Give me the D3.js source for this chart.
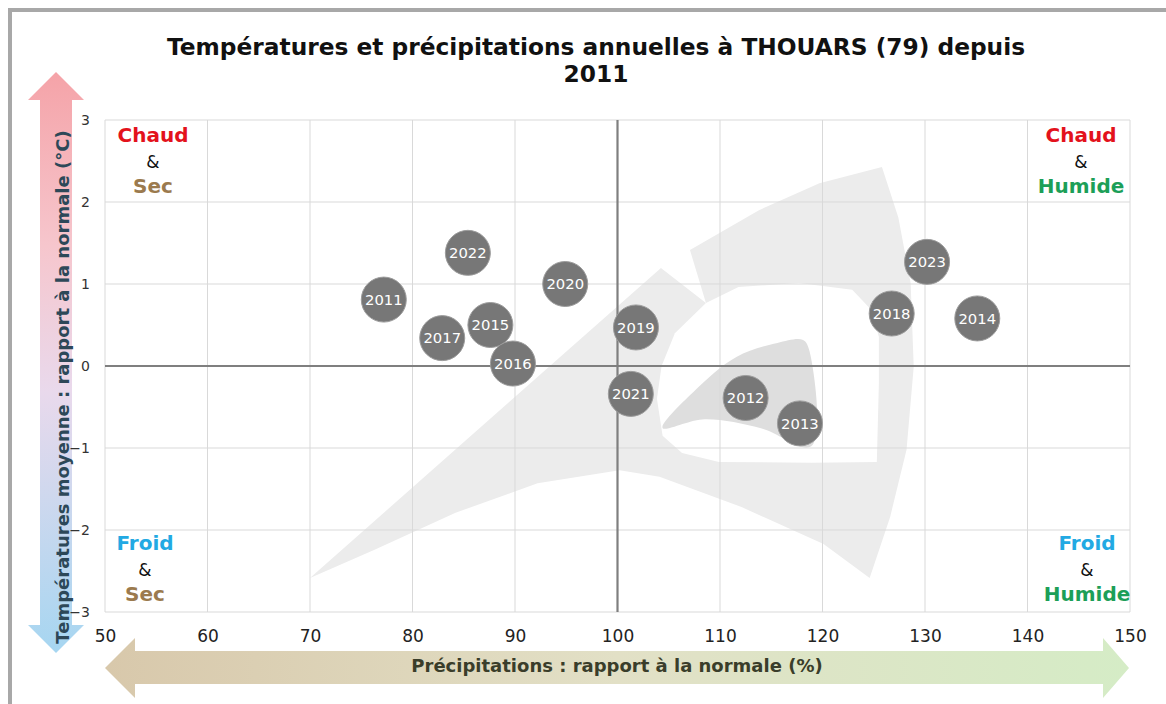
<!DOCTYPE html>
<html>
<head>
<meta charset="utf-8">
<script src="https://cdn.jsdelivr.net/npm/d3@7"></script>
<style>
  html, body { margin: 0; padding: 0; background: #ffffff; }
  svg { display: block; font-family: "DejaVu Sans", Verdana, sans-serif; }
</style>
</head>
<body>
<svg id="chart" width="1166" height="704"></svg>
<script>
// ---------- DATA ----------
const years  = [2011, 2012, 2013, 2014, 2015, 2016, 2017, 2018, 2019, 2020, 2021, 2022, 2023];
const precip = [77.2, 112.5, 117.8, 135.1, 87.6, 89.8, 82.9, 126.75, 101.8, 94.9, 101.3, 85.4, 130.2];
const temp   = [0.81, -0.39, -0.70, 0.58, 0.50, 0.03, 0.34, 0.64, 0.47, 1.00, -0.34, 1.38, 1.27];
const xTicks = [50, 60, 70, 80, 90, 100, 110, 120, 130, 140, 150];
const yTicks = [-3, -2, -1, 0, 1, 2, 3];
const titleLines = ["Températures et précipitations annuelles à THOUARS (79) depuis", "2011"];
const xTitle = "Précipitations : rapport à la normale (%)";
const yTitle = "Températures moyenne : rapport à la normale (°C)";
// quadrant labels: [word1, "&", word2]
const quadrants = [
  { corner: "tl", words: ["Chaud", "&", "Sec"],    colors: ["#e3121c", "#111111", "#9b7a4e"] },
  { corner: "tr", words: ["Chaud", "&", "Humide"], colors: ["#e3121c", "#111111", "#1c9f58"] },
  { corner: "bl", words: ["Froid", "&", "Sec"],    colors: ["#22a9e3", "#111111", "#9b7a4e"] },
  { corner: "br", words: ["Froid", "&", "Humide"], colors: ["#22a9e3", "#111111", "#1c9f58"] }
];

const points = years.map((yr, i) => ({ year: yr, p: precip[i], t: temp[i] }));

// ---------- LAYOUT ----------
const svg = d3.select("#chart");
const x = d3.scaleLinear().domain([50, 150]).range([105, 1130]);
const y = d3.scaleLinear().domain([-3, 3]).range([612, 120]);

// outer frame
svg.append("rect").attr("x", 10).attr("y", 10).attr("width", 1200).attr("height", 800)
  .attr("fill", "#ffffff").attr("stroke", "#a8a8a8").attr("stroke-width", 4);

// gradients
const defs = svg.append("defs");
const gv = defs.append("linearGradient").attr("id", "gv").attr("x1", 0).attr("y1", 0).attr("x2", 0).attr("y2", 1);
gv.append("stop").attr("offset", "0%").attr("stop-color", "#f5a3a8");
gv.append("stop").attr("offset", "30%").attr("stop-color", "#f6c6cd");
gv.append("stop").attr("offset", "55%").attr("stop-color", "#e9d9ec");
gv.append("stop").attr("offset", "100%").attr("stop-color", "#a6d6f1");
const gh = defs.append("linearGradient").attr("id", "gh").attr("x1", 0).attr("y1", 0).attr("x2", 1).attr("y2", 0);
gh.append("stop").attr("offset", "0%").attr("stop-color", "#d8c8ab");
gh.append("stop").attr("offset", "50%").attr("stop-color", "#e2e0c6");
gh.append("stop").attr("offset", "100%").attr("stop-color", "#d5ecc6");

// vertical arrow (decoration)
const vArrow = [[56,72],[84,100],[72,100],[72,625],[84,625],[56,653],[28,625],[40,625],[40,100],[28,100]];
svg.append("path").attr("d", d3.line()(vArrow) + "Z").attr("fill", "url(#gv)");
// horizontal arrow (decoration)
const hArrow = [[105,668],[135,638],[135,651],[1103,651],[1103,638],[1129,668],[1103,698],[1103,684],[135,684],[135,698]];
svg.append("path").attr("d", d3.line()(hArrow) + "Z").attr("fill", "url(#gh)");

// title
svg.append("text").attr("x", 596).attr("y", 55).attr("text-anchor", "middle")
  .attr("font-size", 23.3).attr("font-weight", "bold").attr("fill", "#111")
  .selectAll("tspan").data(titleLines).join("tspan")
  .attr("x", 596).attr("dy", (d, i) => i === 0 ? 0 : 27).text(d => d);

// watermark (decoration, defined in data space)
const wmOuter = [
  [70.0, -2.585], [104.24, 1.195], [108.63, 0.768], [107.07, 1.415],
  [113.8, 1.90], [119.7, 2.23], [125.8, 2.427],
  [127.4, 1.81], [128.6, 1.01], [128.9, -0.01], [128.2, -1.02], [126.6, -1.84], [124.6, -2.585],
  [120.1, -2.17], [112.1, -1.72], [104.1, -1.35], [100.2, -1.27],
  [92.2, -1.43], [84.2, -1.79], [76.3, -2.24]
];
const wmHole = [
  [108.63, 0.768], [105.6, 0.40], [104.3, 0.0], [103.85, -0.40], [104.4, -0.85], [106.3, -1.06],
  [109.9, -1.17], [118.9, -1.18], [125.3, -1.17], [125.5, -0.21], [125.5, 0.354],
  [124.8, 0.68], [122.9, 0.93], [117.7, 1.012], [111.8, 0.963]
];
const wmHook = [
  [104.4, -0.756], [107.6, -0.293], [111.6, 0.110], [115.6, 0.281], [118.1, 0.317],
  [118.7, 0.195], [118.9, -0.98], [114.0, -0.76], [108.5, -0.65]
];
const wmLine = d3.line().x(d => x(d[0])).y(d => y(d[1])).curve(d3.curveCatmullRomClosed.alpha(0.5));
const wmLinear = d3.line().x(d => x(d[0])).y(d => y(d[1]));
svg.append("path").attr("d", wmLinear(wmOuter) + "Z").attr("fill", "#ececec");
svg.append("path").attr("d", wmLinear(wmHole) + "Z").attr("fill", "#ffffff");
svg.append("path").attr("d", wmLine(wmHook)).attr("fill", "#dedede");

// gridlines
const grid = svg.append("g");
grid.selectAll("line.gx").data(xTicks).join("line")
  .attr("x1", d => x(d)).attr("x2", d => x(d)).attr("y1", y(3)).attr("y2", y(-3))
  .attr("stroke", "#d9d9d9").attr("stroke-width", 1);
grid.selectAll("line.gy").data(yTicks).join("line")
  .attr("x1", x(50)).attr("x2", x(150)).attr("y1", d => y(d)).attr("y2", d => y(d))
  .attr("stroke", "#d9d9d9").attr("stroke-width", 1);

// zero axes
svg.append("line").attr("x1", x(50)).attr("x2", x(150)).attr("y1", y(0)).attr("y2", y(0))
  .attr("stroke", "#7f7f7f").attr("stroke-width", 2.2);
svg.append("line").attr("x1", x(100)).attr("x2", x(100)).attr("y1", y(3)).attr("y2", y(-3))
  .attr("stroke", "#7f7f7f").attr("stroke-width", 2.2);

// axes labels
const xAxis = svg.append("g").attr("transform", `translate(0,${y(-3)})`)
  .call(d3.axisBottom(x).tickValues(xTicks).tickSize(0).tickPadding(18).tickFormat(d3.format("d")));
xAxis.select(".domain").remove();
xAxis.selectAll("text").attr("font-size", 17).attr("fill", "#222").attr("font-family", "DejaVu Sans");

const yAxis = svg.append("g").attr("transform", `translate(${x(50)},0)`)
  .call(d3.axisLeft(y).tickValues(yTicks).tickSize(0).tickPadding(15).tickFormat(d3.format("d")));
yAxis.select(".domain").remove();
yAxis.selectAll("text").attr("font-size", 14).attr("fill", "#333").attr("font-family", "DejaVu Sans");

// axis titles
svg.append("text").attr("x", 617).attr("y", 672).attr("text-anchor", "middle")
  .attr("font-size", 18).attr("font-weight", "bold").attr("fill", "#3a3d2a").text(xTitle);
svg.append("text").attr("transform", "translate(69,387) rotate(-90)").attr("text-anchor", "middle")
  .attr("font-size", 18).attr("font-weight", "bold").attr("fill", "#2d4858").text(yTitle);

// bubbles
const bub = svg.append("g").selectAll("g").data(points).join("g")
  .attr("transform", d => `translate(${x(d.p)},${y(d.t)})`);
bub.append("circle").attr("r", 22.5).attr("fill", "#777777").attr("stroke", "#9c9c9c").attr("stroke-width", 1);
bub.append("text").attr("text-anchor", "middle").attr("dy", "0.36em")
  .attr("font-size", 14.8).attr("fill", "#ffffff").text(d => d.year);

// quadrant labels
const qPos = { tl: [153, 142], tr: [1081, 142], bl: [145, 550], br: [1087, 550] };
quadrants.forEach(q => {
  const [cx, by] = qPos[q.corner];
  const t = svg.append("text").attr("text-anchor", "middle");
  q.words.forEach((w, i) => {
    t.append("tspan").attr("x", cx).attr("y", by + i * 25.5)
      .attr("font-size", i === 1 ? 17 : 20)
      .attr("font-weight", i === 1 ? "normal" : "bold")
      .attr("fill", q.colors[i]).text(w);
  });
});
</script>
</body>
</html>
